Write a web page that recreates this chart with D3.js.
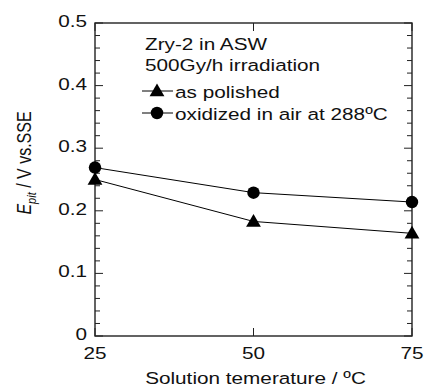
<!DOCTYPE html>
<html>
<head>
<meta charset="utf-8">
<script src="https://cdn.jsdelivr.net/npm/d3@7"></script>
<style>
  body { margin: 0; background: #fff; }
  svg { font-family: "Liberation Sans", Arial, sans-serif; }
</style>
</head>
<body>
<div id="chart"></div>
<script>
// data
const temps = [25, 50, 75];
const asPolished = [0.25, 0.183, 0.164];
const oxidized = [0.269, 0.229, 0.214];
const yTicks = [0, 0.1, 0.2, 0.3, 0.4, 0.5];
const xTicks = [25, 50, 75];
const seriesNames = ["as polished", "oxidized in air at 288ºC"];
const noteLines = ["Zry-2 in ASW", "500Gy/h irradiation"];

const W = 424, H = 389;
const margin = { top: 23, right: 12, bottom: 53, left: 95 };
const width = W - margin.left - margin.right,
    height = H - margin.top - margin.bottom;
// the original type is set a bit wider than Arial
const SX = 1.22;

const svg = d3.select("#chart").append("svg")
    .attr("width", W).attr("height", H);
const g = svg.append("g")
    .attr("transform", `translate(${margin.left},${margin.top})`);

const x = d3.scaleLinear().domain([25, 75]).range([0, width]);
const y = d3.scaleLinear().domain([0, 0.5]).range([height, 0]);

// text placed at (tx,ty), stretched horizontally
function label(parent, tx, ty, txt, anchor, size) {
    return parent.append("g")
        .attr("transform", `translate(${tx},${ty}) scale(${SX},1)`)
        .append("text")
        .attr("text-anchor", anchor || "start")
        .attr("fill", "#111")
        .style("font-size", (size || 17) + "px")
        .text(txt);
}

// frame
g.append("rect")
    .attr("width", width).attr("height", height)
    .attr("fill", "none").attr("stroke", "#222").attr("stroke-width", 1.4);

// ticks: major + minor, pointing inward
const minorY = d3.range(0, 0.5001, 0.02);
const tickLayer = g.append("g").attr("stroke", "#222").attr("stroke-width", 1);
minorY.forEach(v => {
    const major = Math.abs(v * 10 - Math.round(v * 10)) < 1e-6;
    const len = major ? 8 : 5;
    tickLayer.append("line").attr("x1", 0).attr("x2", len).attr("y1", y(v)).attr("y2", y(v));
    tickLayer.append("line").attr("x1", width).attr("x2", width - len).attr("y1", y(v)).attr("y2", y(v));
});
xTicks.forEach(v => {
    tickLayer.append("line").attr("x1", x(v)).attr("x2", x(v)).attr("y1", height).attr("y2", height - 8);
    tickLayer.append("line").attr("x1", x(v)).attr("x2", x(v)).attr("y1", 0).attr("y2", 8);
});

// tick labels
yTicks.forEach(d => {
    label(g, -8, y(d) + 4, d === 0 ? "0" : d3.format(".1f")(d), "end");
});
xTicks.forEach(d => {
    label(g, x(d), height + 23, d, "middle");
});

// axis titles
label(svg, margin.left + width / 2 + 2, 384, "Solution temerature / ºC", "middle");

const yl = svg.append("g")
    .attr("transform", `translate(31,163) rotate(-90) scale(1,${SX})`)
    .append("text")
    .attr("text-anchor", "middle")
    .attr("fill", "#111")
    .style("font-size", "16px");
yl.append("tspan").style("font-style", "italic").text("E");
yl.append("tspan").style("font-style", "italic").style("font-size", "11px").attr("dy", 4).text("pit");
yl.append("tspan").attr("dy", -4).text(" / V vs.SSE");

// lines + markers
const line = d3.line().x(d => x(d[0])).y(d => y(d[1]));
const sym = {
    tri: d3.symbol().type(d3.symbolTriangle).size(95),
    circ: d3.symbol().type(d3.symbolCircle).size(122)
};

function drawSeries(vals, shape) {
    const pts = temps.map((t, i) => [t, vals[i]]);
    g.append("path").datum(pts)
        .attr("d", line).attr("fill", "none")
        .attr("stroke", "#000").attr("stroke-width", 1);
    g.selectAll(null).data(pts).join("path")
        .attr("transform", d => `translate(${x(d[0])},${y(d[1]) + (shape === "tri" ? 1 : 0)})`)
        .attr("d", sym[shape]).attr("fill", "#000");
}
drawSeries(asPolished, "tri");
drawSeries(oxidized, "circ");

// annotation
noteLines.forEach((t, i) => label(svg, 145, 50 + i * 21, t));

// legend
[["tri", 91, 98], ["circ", 113, 120]].forEach(([shape, ly, by], i) => {
    svg.append("line")
        .attr("x1", 142).attr("x2", 173).attr("y1", ly).attr("y2", ly)
        .attr("stroke", "#000").attr("stroke-width", 1);
    svg.append("path")
        .attr("transform", `translate(157,${ly + (shape === "tri" ? 1 : 0)})`)
        .attr("d", sym[shape]).attr("fill", "#000");
    label(svg, 175, by, seriesNames[i]);
});
</script>
</body>
</html>
